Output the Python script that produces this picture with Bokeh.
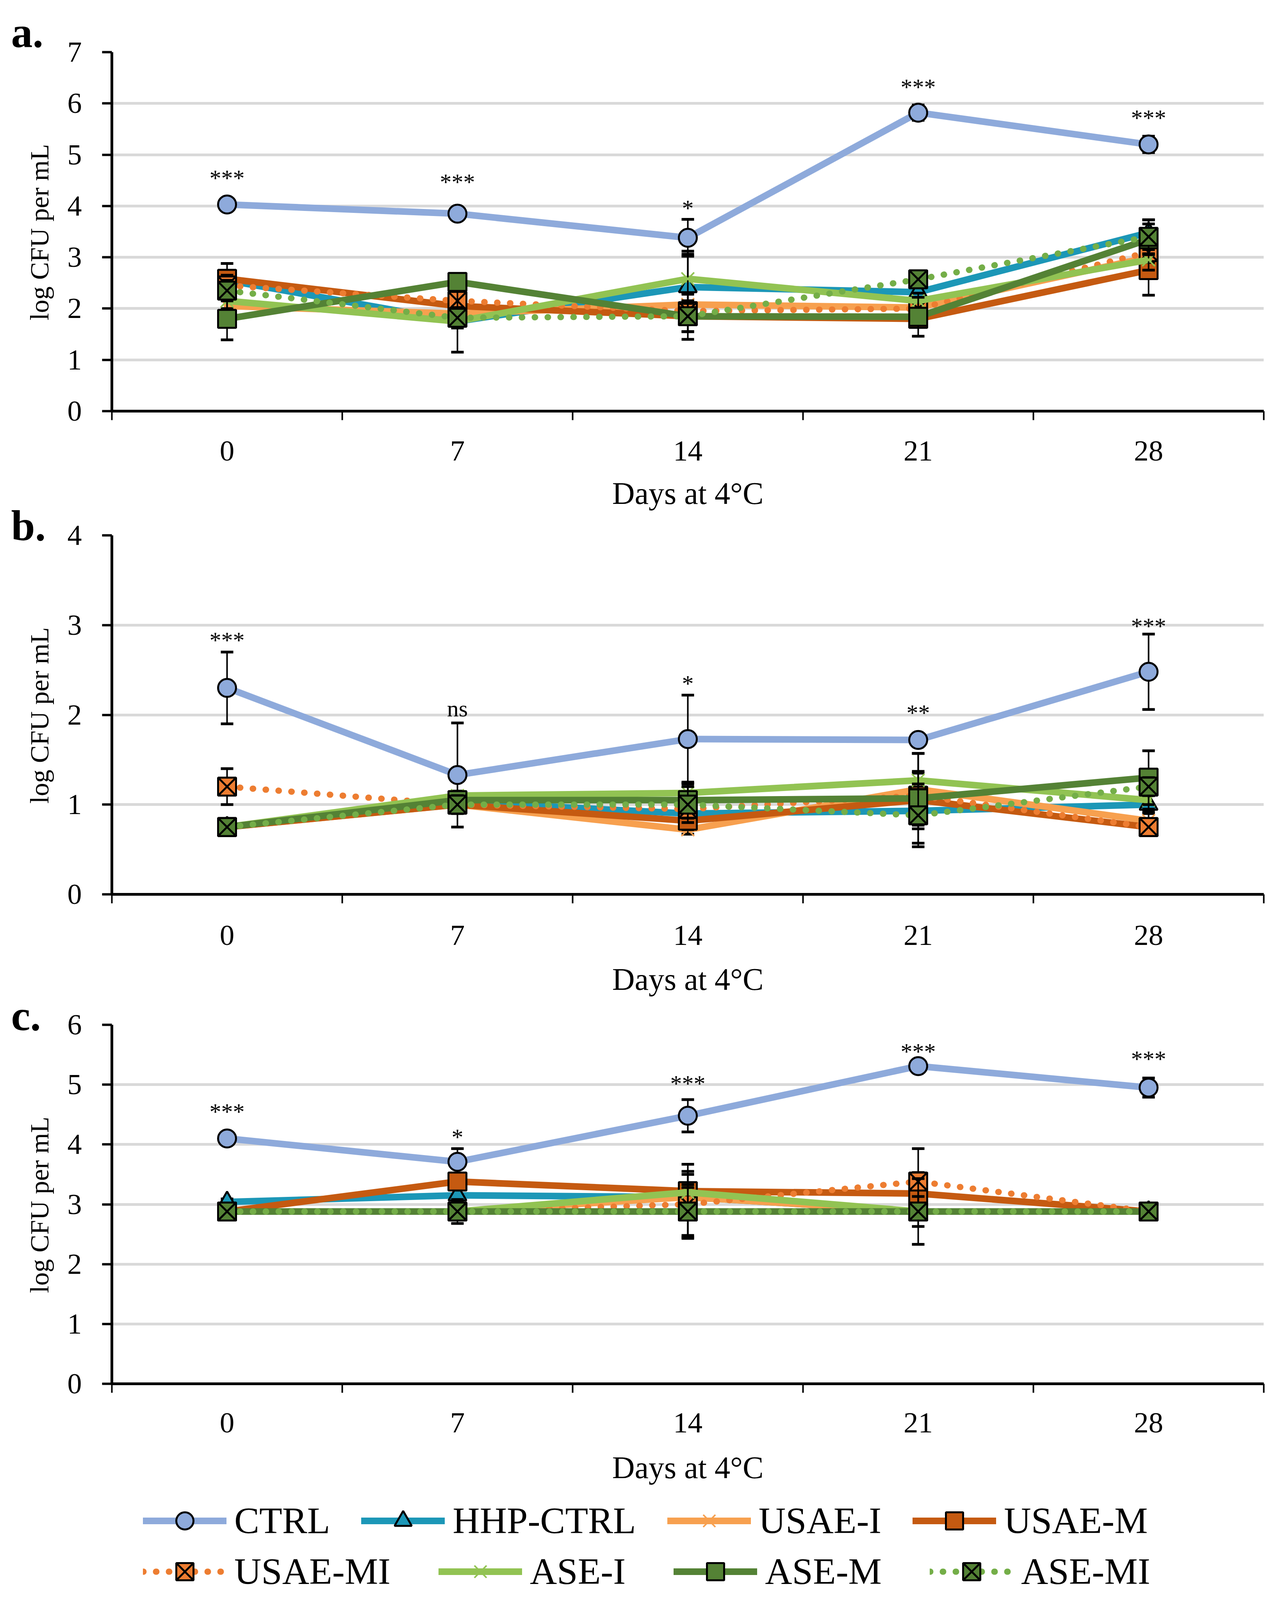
import math
from bokeh.plotting import figure
from bokeh.models import Range1d, FixedTicker, Legend, LegendItem, ColumnDataSource
from bokeh.layouts import column, row
from bokeh.embed import file_html
from bokeh.resources import INLINE
from bokeh.core.properties import value

# ---------------- data ----------------
days = [0, 7, 14, 21, 28]
day_labels = ["0", "7", "14", "21", "28"]
series_names = ["CTRL", "HHP-CTRL", "USAE-I", "USAE-M", "USAE-MI", "ASE-I", "ASE-M", "ASE-MI"]
panel_letters = ["a.", "b.", "c."]
y_title = "log CFU per mL"
x_title = "Days at 4°C"

# panel a
a_ctrl = [4.03, 3.85, 3.38, 5.82, 5.20]
a_hhp = [2.55, 1.75, 2.42, 2.32, 3.48]
a_usae_i = [2.05, 1.90, 2.08, 2.02, 3.00]
a_usae_m = [2.58, 2.05, 1.85, 1.80, 2.75]
a_usae_mi = [2.45, 2.15, 1.95, 2.00, 3.10]
a_ase_i = [2.15, 1.75, 2.58, 2.15, 2.95]
a_ase_m = [1.80, 2.52, 1.85, 1.84, 3.35]
a_ase_mi = [2.35, 1.82, 1.85, 2.57, 3.40]
a_ctrl_err = [0.10, 0.05, 0.36, 0.15, 0.16]
a_hhp_err = [0.15, 0.10, 0.70, 0.10, 0.25]
a_usae_i_err = [0.15, 0.20, 0.20, 0.15, 0.15]
a_usae_m_err = [0.30, 0.15, 0.30, 0.16, 0.49]
a_usae_mi_err = [0.20, 0.15, 0.20, 0.15, 0.20]
a_ase_i_err = [0.15, 0.60, 0.48, 0.15, 0.20]
a_ase_m_err = [0.41, 0.12, 0.45, 0.38, 0.30]
a_ase_mi_err = [0.20, 0.20, 0.30, 0.15, 0.33]
a_sig = ["***", "***", "*", "***", "***"]
a_sig_y = [4.54, 4.47, 3.96, 6.32, 5.72]

# panel b
b_ctrl = [2.30, 1.33, 1.73, 1.72, 2.48]
b_hhp = [0.75, 1.03, 0.90, 0.93, 1.00]
b_usae_i = [0.75, 1.00, 0.72, 1.17, 0.82]
b_usae_m = [0.75, 1.00, 0.82, 1.05, 0.75]
b_usae_mi = [1.20, 1.00, 0.95, 1.10, 0.75]
b_ase_i = [0.75, 1.10, 1.13, 1.27, 1.05]
b_ase_m = [0.75, 1.05, 1.05, 1.07, 1.30]
b_ase_mi = [0.75, 1.00, 1.00, 0.88, 1.20]
b_ctrl_err = [0.40, 0.58, 0.49, 0.03, 0.42]
b_hhp_err = [0.02, 0.05, 0.10, 0.20, 0.10]
b_usae_i_err = [0.02, 0.05, 0.05, 0.40, 0.10]
b_usae_m_err = [0.02, 0.05, 0.10, 0.20, 0.05]
b_usae_mi_err = [0.20, 0.05, 0.10, 0.25, 0.05]
b_ase_i_err = [0.02, 0.05, 0.10, 0.10, 0.10]
b_ase_m_err = [0.02, 0.05, 0.20, 0.50, 0.30]
b_ase_mi_err = [0.02, 0.10, 0.20, 0.35, 0.10]
b_sig = ["***", "ns", "*", "**", "***"]
b_sig_y = [2.83, 2.07, 2.35, 2.02, 2.99]

# panel c
c_ctrl = [4.10, 3.71, 4.48, 5.31, 4.95]
c_hhp = [3.04, 3.15, 3.12, 2.88, 2.88]
c_usae_i = [2.88, 2.88, 3.12, 2.88, 2.88]
c_usae_m = [2.88, 3.38, 3.22, 3.18, 2.88]
c_usae_mi = [2.88, 2.88, 3.00, 3.38, 2.88]
c_ase_i = [2.88, 2.88, 3.20, 2.88, 2.88]
c_ase_m = [2.88, 2.88, 2.88, 2.88, 2.88]
c_ase_mi = [2.88, 2.88, 2.88, 2.88, 2.88]
c_ctrl_err = [0.06, 0.22, 0.27, 0.05, 0.16]
c_hhp_err = [0.05, 0.10, 0.20, 0.10, 0.05]
c_usae_i_err = [0.02, 0.05, 0.20, 0.10, 0.02]
c_usae_m_err = [0.02, 0.10, 0.45, 0.35, 0.05]
c_usae_mi_err = [0.02, 0.05, 0.55, 0.55, 0.05]
c_ase_i_err = [0.02, 0.05, 0.30, 0.10, 0.02]
c_ase_m_err = [0.02, 0.05, 0.40, 0.25, 0.05]
c_ase_mi_err = [0.02, 0.20, 0.45, 0.55, 0.05]
c_sig = ["***", "*", "***", "***", "***"]
c_sig_y = [4.545, 4.12, 5.015, 5.555, 5.43]

panel_a_vals = [a_ctrl, a_hhp, a_usae_i, a_usae_m, a_usae_mi, a_ase_i, a_ase_m, a_ase_mi]
panel_a_errs = [a_ctrl_err, a_hhp_err, a_usae_i_err, a_usae_m_err, a_usae_mi_err, a_ase_i_err, a_ase_m_err, a_ase_mi_err]
panel_b_vals = [b_ctrl, b_hhp, b_usae_i, b_usae_m, b_usae_mi, b_ase_i, b_ase_m, b_ase_mi]
panel_b_errs = [b_ctrl_err, b_hhp_err, b_usae_i_err, b_usae_m_err, b_usae_mi_err, b_ase_i_err, b_ase_m_err, b_ase_mi_err]
panel_c_vals = [c_ctrl, c_hhp, c_usae_i, c_usae_m, c_usae_mi, c_ase_i, c_ase_m, c_ase_mi]
panel_c_errs = [c_ctrl_err, c_hhp_err, c_usae_i_err, c_usae_m_err, c_usae_mi_err, c_ase_i_err, c_ase_m_err, c_ase_mi_err]

# ---------------- styles ----------------
DOT = "1 32"
STYLE = {
    "CTRL":     dict(color="#8EAADB", dash="solid", marker="circle",   fill="#8EAADB", mline="black"),
    "HHP-CTRL": dict(color="#1C97B7", dash="solid", marker="triangle", fill="#1C97B7", mline="black"),
    "USAE-I":   dict(color="#F7A04F", dash="solid", marker="x",        fill=None,      mline="#F7A04F"),
    "USAE-M":   dict(color="#C55A11", dash="solid", marker="square",   fill="#C55A11", mline="black"),
    "USAE-MI":  dict(color="#ED7D31", dash=DOT,     marker="square_x", fill="#ED7D31", mline="black"),
    "ASE-I":    dict(color="#92C353", dash="solid", marker="x",        fill=None,      mline="#92C353"),
    "ASE-M":    dict(color="#548235", dash="solid", marker="square",   fill="#548235", mline="black"),
    "ASE-MI":   dict(color="#74AE48", dash=DOT,     marker="square_x", fill="#548235", mline="black"),
}
FONT = "Liberation Serif"
LEFT_W = 150           # narrow column holding the panel letters and the y titles
PANEL_W = 3100
BORDER_L = 136
BORDER_R = 14
FRAME_H = 922
LINE_W = 17
MK = 46


def draw_series(p, xs, ys, name, source=None):
    st = STYLE[name]
    lw = LINE_W if st["dash"] == "solid" else 16
    kw = dict(line_color=st["color"], line_width=lw, line_dash=st["dash"],
              line_cap="round", line_join="round")
    if source is None:
        return p.line(xs, ys, **kw)
    return p.line("x", "y", source=source, **kw)


def draw_marker(p, xs, ys, name, source=None):
    st = STYLE[name]
    kw = dict(marker=st["marker"], size=MK, line_color=st["mline"],
              line_width=5 if st["fill"] else 4)
    if st["fill"]:
        kw["fill_color"] = st["fill"]
    else:
        kw["fill_alpha"] = 0
    if source is None:
        return p.scatter(xs, ys, **kw)
    return p.scatter("x", "y", source=source, **kw)


def make_panel(ymax, vals, errs, sig, sig_y, border_top, border_bottom, tick_standoff, title_standoff):
    p = figure(width=PANEL_W, height=border_top + FRAME_H + border_bottom,
               x_range=Range1d(-3.5, 31.5), y_range=Range1d(0, ymax),
               output_backend="svg", toolbar_location=None,
               min_border_left=BORDER_L, min_border_right=BORDER_R,
               min_border_top=border_top, min_border_bottom=border_bottom)
    p.outline_line_color = None
    p.background_fill_color = "white"
    p.border_fill_color = "white"

    # x axis: labels at the day centres, tick marks between the categories (minor ticks)
    edges = [d - 3.5 for d in days] + [days[-1] + 3.5]
    xa = p.xaxis[0]
    xa.ticker = FixedTicker(ticks=days, minor_ticks=edges)
    xa.major_label_overrides = {d: l for d, l in zip(days, day_labels)}
    xa.major_tick_out = 0
    xa.major_tick_in = 0
    xa.minor_tick_out = 23
    xa.minor_tick_in = 0
    xa.minor_tick_line_width = 4
    xa.minor_tick_line_color = "black"
    xa.axis_line_width = 7
    xa.axis_line_color = "black"
    xa.major_label_standoff = tick_standoff
    xa.major_label_text_font = FONT
    xa.major_label_text_font_size = "75px"
    xa.major_label_text_color = "black"
    xa.axis_label = x_title
    xa.axis_label_standoff = title_standoff
    xa.axis_label_text_font = FONT
    xa.axis_label_text_font_size = "80px"
    xa.axis_label_text_font_style = "normal"
    xa.axis_label_text_color = "black"

    ya = p.yaxis[0]
    yt = list(range(0, ymax + 1))
    ya.ticker = FixedTicker(ticks=yt, minor_ticks=[])
    ya.major_tick_out = 25
    ya.major_tick_in = 0
    ya.major_tick_line_width = 6
    ya.minor_tick_out = 0
    ya.minor_tick_in = 0
    ya.axis_line_width = 7
    ya.axis_line_color = "black"
    ya.major_label_standoff = 52
    ya.major_label_text_font = FONT
    ya.major_label_text_font_size = "74px"
    ya.major_label_text_color = "black"

    p.xgrid.visible = False
    p.ygrid.ticker = FixedTicker(ticks=yt)
    p.ygrid.grid_line_color = "#D9D9D9"
    p.ygrid.grid_line_width = 7

    for name, v, e in zip(series_names, vals, errs):
        draw_series(p, days, v, name)
        lo = [a - b for a, b in zip(v, e)]
        hi = [a + b for a, b in zip(v, e)]
        p.segment(x0=days, y0=lo, x1=days, y1=hi, line_color="black", line_width=4)
        p.scatter(days + days, lo + hi, marker="dash", size=32, line_width=7, line_color="black")
        draw_marker(p, days, v, name)

    p.text(x=days, y=sig_y, text=sig, text_font=value(FONT), text_font_size="60px",
           text_align="center", text_baseline="middle", text_color="black")
    return p


# borders chosen so that the frames sit where the reference puts them
pa = make_panel(7, panel_a_vals, panel_a_errs, a_sig, a_sig_y, 133, 254, 54, 37)
pb = make_panel(4, panel_b_vals, panel_b_errs, b_sig, b_sig_y, 61, 261, 57, 41)
pc = make_panel(6, panel_c_vals, panel_c_errs, c_sig, c_sig_y, 70, 258, 52, 43)
panels_h = pa.height + pb.height + pc.height

# ---------------- left column: panel letters and y titles ----------------
lf = figure(width=LEFT_W, height=panels_h, x_range=Range1d(0, LEFT_W), y_range=Range1d(panels_h, 0),
            output_backend="svg", toolbar_location=None, min_border=0,
            min_border_left=0, min_border_right=0, min_border_top=0, min_border_bottom=0,
            x_axis_type=None, y_axis_type=None)
lf.outline_line_color = None
lf.xgrid.visible = False
lf.ygrid.visible = False
frame_tops = [133, pa.height + 61, pa.height + pb.height + 70]
letter_y = [frame_tops[0] - 51, frame_tops[1] - 25, frame_tops[2] - 24]
lf.text(x=[28, 28, 28], y=letter_y, text=panel_letters, text_font=value(FONT),
        text_font_style=value("bold"), text_font_size="110px", text_align="left",
        text_baseline="alphabetic", text_color="black")
lf.text(x=[100, 100, 100], y=[t + FRAME_H / 2 for t in frame_tops], text=[y_title] * 3,
        angle=math.pi / 2, text_font=value(FONT), text_font_size="68px",
        text_align="center", text_baseline="middle", text_color="black")

# ---------------- legend figure ----------------
LH = 275
pl = figure(width=LEFT_W + PANEL_W, height=LH, x_range=Range1d(0, 1), y_range=Range1d(0, 1),
            output_backend="svg", toolbar_location=None, min_border=0,
            min_border_left=0, min_border_right=0, min_border_top=0, min_border_bottom=0,
            x_axis_type=None, y_axis_type=None)
pl.outline_line_color = None
pl.xgrid.visible = False
pl.ygrid.visible = False

items = []
for name in series_names:
    # legend proxies: one NaN point, so nothing is drawn in the plot itself
    src = ColumnDataSource(dict(x=[float("nan")], y=[float("nan")]))
    rl = draw_series(pl, None, None, name, source=src)
    rm = draw_marker(pl, None, None, name, source=src)
    items.append(LegendItem(label=name, renderers=[rl, rm]))


def make_legend(its, loc, spacing):
    return Legend(items=its, orientation="horizontal", location=loc,
                  label_text_font=FONT, label_text_font_size="96px", label_text_color="black",
                  glyph_width=214, glyph_height=110, label_standoff=20, spacing=spacing,
                  padding=0, margin=0, border_line_color=None, background_fill_alpha=0)


pl.add_layout(make_legend(items[:4], (366, 130), 80))
pl.add_layout(make_legend(items[4:], (366, 0), 123))

layout = column(row(lf, column(pa, pb, pc, spacing=0), spacing=0), pl, spacing=0)
open("out.html", "w").write(file_html(layout, INLINE))
